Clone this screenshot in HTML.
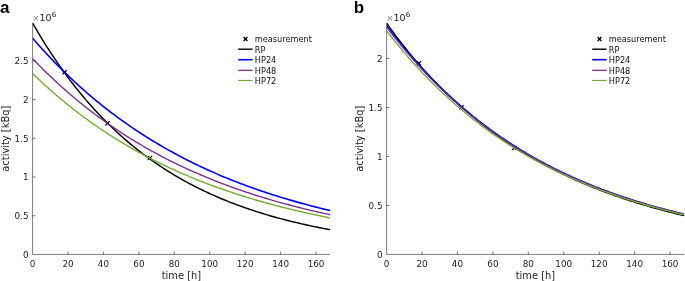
<!DOCTYPE html>
<html><head><meta charset="utf-8"><title>activity</title>
<style>
html,body{margin:0;padding:0;background:#fff;}
svg{display:block;will-change:transform}
text{font-family:"DejaVu Sans","Liberation Sans",sans-serif;fill:#262626}
.tk{font-size:8.8px}
.ex1{font-size:8px;fill:#777}
.ex2{font-size:9.5px}
.ex3{font-size:7.2px}
.al{font-size:9.9px}
.lg{font-size:8.2px;fill:#111}
.pl{font-family:"Liberation Sans",sans-serif;font-weight:bold;font-size:17px;fill:#000}
</style></head><body>
<svg width="685" height="281" viewBox="0 0 685 281">
<rect width="685" height="281" fill="#fff"/>
<clipPath id="ca"><rect x="32.60" y="23.00" width="298.20" height="231.40"/></clipPath>
<path d="M62.47 70.18L66.67 74.38M62.47 74.38L66.67 70.18" stroke="#000" stroke-width="1.3" fill="none"/>
<path d="M105.34 121.18L109.54 125.38M105.34 125.38L109.54 121.18" stroke="#000" stroke-width="1.3" fill="none"/>
<path d="M147.95 155.86L152.15 160.06M147.95 160.06L152.15 155.86" stroke="#000" stroke-width="1.3" fill="none"/>
<g clip-path="url(#ca)" fill="none" stroke-linejoin="round">
<polyline points="32.60,23.05 34.37,26.14 36.14,29.18 37.91,32.18 39.69,35.14 41.46,38.06 43.23,40.94 45.00,43.79 46.77,46.59 48.54,49.36 50.31,52.09 52.09,54.79 53.86,57.45 55.63,60.07 57.40,62.66 59.17,65.21 60.94,67.73 62.71,70.21 64.49,72.66 66.26,75.08 68.03,77.47 69.80,79.82 71.57,82.14 73.34,84.44 75.11,86.70 76.89,88.93 78.66,91.13 80.43,93.30 82.20,95.44 83.97,97.56 85.74,99.64 87.51,101.70 89.29,103.73 91.06,105.73 92.83,107.71 94.60,109.66 96.37,111.58 98.14,113.48 99.91,115.35 101.69,117.20 103.46,119.02 105.23,120.82 107.00,122.59 108.77,124.34 110.54,126.07 112.31,127.77 114.09,129.45 115.86,131.11 117.63,132.75 119.40,134.36 121.17,135.96 122.94,137.53 124.71,139.08 126.49,140.61 128.26,142.12 130.03,143.61 131.80,145.08 133.57,146.53 135.34,147.96 137.11,149.37 138.89,150.76 140.66,152.14 142.43,153.49 144.20,154.83 145.97,156.15 147.74,157.45 149.51,158.74 151.29,160.01 153.06,161.26 154.83,162.49 156.60,163.71 158.37,164.91 160.14,166.10 161.91,167.26 163.69,168.42 165.46,169.56 167.23,170.68 169.00,171.79 170.77,172.88 172.54,173.96 174.31,175.03 176.09,176.08 177.86,177.11 179.63,178.14 181.40,179.15 183.17,180.14 184.94,181.12 186.71,182.09 188.49,183.05 190.26,183.99 192.03,184.92 193.80,185.84 195.57,186.75 197.34,187.64 199.11,188.53 200.89,189.40 202.66,190.26 204.43,191.10 206.20,191.94 207.97,192.77 209.74,193.58 211.51,194.38 213.29,195.18 215.06,195.96 216.83,196.73 218.60,197.49 220.37,198.24 222.14,198.98 223.91,199.72 225.69,200.44 227.46,201.15 229.23,201.85 231.00,202.55 232.77,203.23 234.54,203.91 236.31,204.57 238.09,205.23 239.86,205.88 241.63,206.52 243.40,207.15 245.17,207.77 246.94,208.39 248.71,209.00 250.49,209.59 252.26,210.18 254.03,210.77 255.80,211.34 257.57,211.91 259.34,212.47 261.11,213.02 262.89,213.57 264.66,214.11 266.43,214.64 268.20,215.16 269.97,215.68 271.74,216.19 273.51,216.69 275.29,217.19 277.06,217.68 278.83,218.16 280.60,218.64 282.37,219.11 284.14,219.57 285.91,220.03 287.69,220.48 289.46,220.93 291.23,221.37 293.00,221.81 294.77,222.23 296.54,222.66 298.31,223.07 300.09,223.49 301.86,223.89 303.63,224.29 305.40,224.69 307.17,225.08 308.94,225.47 310.71,225.85 312.49,226.22 314.26,226.59 316.03,226.96 317.80,227.32 319.57,227.67 321.34,228.03 323.11,228.37 324.89,228.71 326.66,229.05 328.43,229.38 330.20,229.71" stroke="#000" stroke-width="1.45"/>
<polyline points="32.60,38.14 34.37,40.19 36.14,42.21 37.91,44.22 39.69,46.21 41.46,48.18 43.23,50.13 45.00,52.06 46.77,53.97 48.54,55.87 50.31,57.74 52.09,59.60 53.86,61.44 55.63,63.27 57.40,65.08 59.17,66.87 60.94,68.64 62.71,70.40 64.49,72.14 66.26,73.86 68.03,75.57 69.80,77.26 71.57,78.93 73.34,80.59 75.11,82.23 76.89,83.86 78.66,85.47 80.43,87.07 82.20,88.65 83.97,90.22 85.74,91.77 87.51,93.31 89.29,94.83 91.06,96.34 92.83,97.84 94.60,99.32 96.37,100.78 98.14,102.24 99.91,103.67 101.69,105.10 103.46,106.51 105.23,107.91 107.00,109.29 108.77,110.67 110.54,112.03 112.31,113.37 114.09,114.71 115.86,116.03 117.63,117.33 119.40,118.63 121.17,119.91 122.94,121.19 124.71,122.44 126.49,123.69 128.26,124.93 130.03,126.15 131.80,127.37 133.57,128.57 135.34,129.76 137.11,130.93 138.89,132.10 140.66,133.26 142.43,134.40 144.20,135.54 145.97,136.66 147.74,137.78 149.51,138.88 151.29,139.97 153.06,141.05 154.83,142.12 156.60,143.19 158.37,144.24 160.14,145.28 161.91,146.31 163.69,147.33 165.46,148.34 167.23,149.35 169.00,150.34 170.77,151.32 172.54,152.30 174.31,153.26 176.09,154.22 177.86,155.17 179.63,156.11 181.40,157.04 183.17,157.96 184.94,158.87 186.71,159.77 188.49,160.67 190.26,161.55 192.03,162.43 193.80,163.30 195.57,164.16 197.34,165.01 199.11,165.86 200.89,166.70 202.66,167.53 204.43,168.35 206.20,169.16 207.97,169.97 209.74,170.77 211.51,171.56 213.29,172.34 215.06,173.12 216.83,173.88 218.60,174.64 220.37,175.40 222.14,176.15 223.91,176.89 225.69,177.62 227.46,178.34 229.23,179.06 231.00,179.78 232.77,180.48 234.54,181.18 236.31,181.87 238.09,182.56 239.86,183.24 241.63,183.91 243.40,184.58 245.17,185.24 246.94,185.89 248.71,186.54 250.49,187.18 252.26,187.82 254.03,188.45 255.80,189.07 257.57,189.69 259.34,190.30 261.11,190.91 262.89,191.51 264.66,192.10 266.43,192.69 268.20,193.27 269.97,193.85 271.74,194.42 273.51,194.99 275.29,195.55 277.06,196.11 278.83,196.66 280.60,197.21 282.37,197.75 284.14,198.28 285.91,198.81 287.69,199.34 289.46,199.86 291.23,200.37 293.00,200.89 294.77,201.39 296.54,201.89 298.31,202.39 300.09,202.88 301.86,203.37 303.63,203.85 305.40,204.33 307.17,204.80 308.94,205.27 310.71,205.73 312.49,206.20 314.26,206.65 316.03,207.10 317.80,207.55 319.57,207.99 321.34,208.43 323.11,208.87 324.89,209.30 326.66,209.72 328.43,210.15 330.20,210.56" stroke="#0000ff" stroke-width="1.6"/>
<polyline points="32.60,58.58 34.37,60.43 36.14,62.26 37.91,64.08 39.69,65.88 41.46,67.66 43.23,69.43 45.00,71.18 46.77,72.91 48.54,74.62 50.31,76.32 52.09,78.01 53.86,79.68 55.63,81.33 57.40,82.96 59.17,84.59 60.94,86.19 62.71,87.78 64.49,89.36 66.26,90.92 68.03,92.46 69.80,93.99 71.57,95.51 73.34,97.01 75.11,98.50 76.89,99.98 78.66,101.44 80.43,102.88 82.20,104.31 83.97,105.73 85.74,107.14 87.51,108.53 89.29,109.91 91.06,111.28 92.83,112.63 94.60,113.97 96.37,115.30 98.14,116.61 99.91,117.92 101.69,119.21 103.46,120.48 105.23,121.75 107.00,123.01 108.77,124.25 110.54,125.48 112.31,126.70 114.09,127.90 115.86,129.10 117.63,130.29 119.40,131.46 121.17,132.62 122.94,133.77 124.71,134.91 126.49,136.04 128.26,137.16 130.03,138.27 131.80,139.37 133.57,140.46 135.34,141.53 137.11,142.60 138.89,143.66 140.66,144.70 142.43,145.74 144.20,146.77 145.97,147.79 147.74,148.79 149.51,149.79 151.29,150.78 153.06,151.76 154.83,152.73 156.60,153.69 158.37,154.65 160.14,155.59 161.91,156.52 163.69,157.45 165.46,158.37 167.23,159.27 169.00,160.17 170.77,161.06 172.54,161.95 174.31,162.82 176.09,163.69 177.86,164.54 179.63,165.39 181.40,166.24 183.17,167.07 184.94,167.89 186.71,168.71 188.49,169.52 190.26,170.33 192.03,171.12 193.80,171.91 195.57,172.69 197.34,173.46 199.11,174.23 200.89,174.98 202.66,175.73 204.43,176.48 206.20,177.21 207.97,177.94 209.74,178.67 211.51,179.38 213.29,180.09 215.06,180.80 216.83,181.49 218.60,182.18 220.37,182.86 222.14,183.54 223.91,184.21 225.69,184.87 227.46,185.53 229.23,186.18 231.00,186.83 232.77,187.47 234.54,188.10 236.31,188.73 238.09,189.35 239.86,189.96 241.63,190.57 243.40,191.17 245.17,191.77 246.94,192.36 248.71,192.95 250.49,193.53 252.26,194.11 254.03,194.68 255.80,195.24 257.57,195.80 259.34,196.36 261.11,196.90 262.89,197.45 264.66,197.99 266.43,198.52 268.20,199.05 269.97,199.57 271.74,200.09 273.51,200.60 275.29,201.11 277.06,201.62 278.83,202.12 280.60,202.61 282.37,203.10 284.14,203.58 285.91,204.06 287.69,204.54 289.46,205.01 291.23,205.48 293.00,205.94 294.77,206.40 296.54,206.85 298.31,207.30 300.09,207.75 301.86,208.19 303.63,208.63 305.40,209.06 307.17,209.49 308.94,209.91 310.71,210.33 312.49,210.75 314.26,211.16 316.03,211.57 317.80,211.98 319.57,212.38 321.34,212.77 323.11,213.17 324.89,213.56 326.66,213.94 328.43,214.33 330.20,214.71" stroke="#7e2f8e" stroke-width="1.4"/>
<polyline points="32.60,73.52 34.37,75.23 36.14,76.93 37.91,78.61 39.69,80.28 41.46,81.93 43.23,83.57 45.00,85.19 46.77,86.79 48.54,88.38 50.31,89.96 52.09,91.52 53.86,93.06 55.63,94.59 57.40,96.11 59.17,97.61 60.94,99.10 62.71,100.57 64.49,102.03 66.26,103.47 68.03,104.91 69.80,106.32 71.57,107.73 73.34,109.12 75.11,110.50 76.89,111.86 78.66,113.21 80.43,114.55 82.20,115.88 83.97,117.19 85.74,118.50 87.51,119.78 89.29,121.06 91.06,122.33 92.83,123.58 94.60,124.82 96.37,126.05 98.14,127.27 99.91,128.47 101.69,129.67 103.46,130.85 105.23,132.02 107.00,133.18 108.77,134.33 110.54,135.47 112.31,136.60 114.09,137.72 115.86,138.82 117.63,139.92 119.40,141.00 121.17,142.08 122.94,143.15 124.71,144.20 126.49,145.25 128.26,146.28 130.03,147.31 131.80,148.32 133.57,149.33 135.34,150.32 137.11,151.31 138.89,152.29 140.66,153.26 142.43,154.22 144.20,155.17 145.97,156.11 147.74,157.04 149.51,157.96 151.29,158.88 153.06,159.79 154.83,160.68 156.60,161.57 158.37,162.45 160.14,163.32 161.91,164.19 163.69,165.04 165.46,165.89 167.23,166.73 169.00,167.56 170.77,168.39 172.54,169.20 174.31,170.01 176.09,170.81 177.86,171.60 179.63,172.39 181.40,173.17 183.17,173.94 184.94,174.70 186.71,175.46 188.49,176.20 190.26,176.95 192.03,177.68 193.80,178.41 195.57,179.13 197.34,179.84 199.11,180.55 200.89,181.25 202.66,181.94 204.43,182.63 206.20,183.31 207.97,183.99 209.74,184.65 211.51,185.32 213.29,185.97 215.06,186.62 216.83,187.26 218.60,187.90 220.37,188.53 222.14,189.16 223.91,189.77 225.69,190.39 227.46,190.99 229.23,191.60 231.00,192.19 232.77,192.78 234.54,193.37 236.31,193.94 238.09,194.52 239.86,195.09 241.63,195.65 243.40,196.21 245.17,196.76 246.94,197.30 248.71,197.85 250.49,198.38 252.26,198.91 254.03,199.44 255.80,199.96 257.57,200.48 259.34,200.99 261.11,201.50 262.89,202.00 264.66,202.49 266.43,202.99 268.20,203.47 269.97,203.96 271.74,204.44 273.51,204.91 275.29,205.38 277.06,205.84 278.83,206.30 280.60,206.76 282.37,207.21 284.14,207.66 285.91,208.10 287.69,208.54 289.46,208.98 291.23,209.41 293.00,209.84 294.77,210.26 296.54,210.68 298.31,211.09 300.09,211.50 301.86,211.91 303.63,212.31 305.40,212.71 307.17,213.11 308.94,213.50 310.71,213.89 312.49,214.27 314.26,214.65 316.03,215.03 317.80,215.40 319.57,215.77 321.34,216.14 323.11,216.50 324.89,216.86 326.66,217.22 328.43,217.57 330.20,217.92" stroke="#77ac30" stroke-width="1.4"/>
</g>
<path d="M32.60 23.00V254.40H330.20" stroke="#262626" stroke-width="0.75" fill="none" stroke-opacity="0.8"/>
<path d="M68.03 254.40v-3M103.46 254.40v-3M138.89 254.40v-3M174.31 254.40v-3M209.74 254.40v-3M245.17 254.40v-3M280.60 254.40v-3M316.03 254.40v-3M32.60 215.70h3M32.60 177.00h3M32.60 138.30h3M32.60 99.60h3M32.60 60.90h3" stroke="#262626" stroke-width="0.75" fill="none" stroke-opacity="0.8"/>
<g class="tk" text-anchor="middle">
<text x="32.60" y="266.55">0</text>
<text x="68.03" y="266.55">20</text>
<text x="103.46" y="266.55">40</text>
<text x="138.89" y="266.55">60</text>
<text x="174.31" y="266.55">80</text>
<text x="209.74" y="266.55">100</text>
<text x="245.17" y="266.55">120</text>
<text x="280.60" y="266.55">140</text>
<text x="316.03" y="266.55">160</text>
</g>
<g class="tk" text-anchor="end">
<text x="28.50" y="257.60">0</text>
<text x="28.50" y="218.90">0.5</text>
<text x="28.50" y="180.20">1</text>
<text x="28.50" y="141.50">1.5</text>
<text x="28.50" y="102.80">2</text>
<text x="28.50" y="64.10">2.5</text>
</g>
<text class="ex1" x="32.50" y="21.0">×</text><text class="ex2" x="39.50" y="21.0">10</text><text class="ex3" x="51.80" y="16.8">6</text>
<text class="al" text-anchor="middle" x="181.40" y="279.1">time [h]</text>
<text class="al" text-anchor="middle" transform="translate(9.00 138.70) rotate(-90)">activity [kBq]</text>
<text class="pl" x="0" y="13">a</text>
<path d="M243.60 37.10L247.40 40.90M243.60 40.90L247.40 37.10" stroke="#000" stroke-width="1.4" fill="none"/>
<text class="lg" x="254.80" y="42.30">measurement</text>
<path d="M238.20 49.20h14.4" stroke="#000" stroke-width="1.4"/>
<text class="lg" x="254.80" y="52.80">RP</text>
<path d="M238.20 59.70h14.4" stroke="#0000ff" stroke-width="1.6"/>
<text class="lg" x="254.80" y="63.40">HP24</text>
<path d="M238.20 70.30h14.4" stroke="#7e2f8e" stroke-width="1.3"/>
<text class="lg" x="254.80" y="73.90">HP48</text>
<path d="M238.20 80.45h14.4" stroke="#77ac30" stroke-width="1.2"/>
<text class="lg" x="254.80" y="84.40">HP72</text>
<clipPath id="cb"><rect x="386.60" y="23.00" width="298.20" height="231.40"/></clipPath>
<path d="M416.74 61.30L420.94 65.50M416.74 65.50L420.94 61.30" stroke="#000" stroke-width="1.3" fill="none"/>
<path d="M459.43 105.20L463.63 109.40M459.43 109.40L463.63 105.20" stroke="#000" stroke-width="1.3" fill="none"/>
<path d="M512.22 145.87L516.42 150.07M512.22 150.07L516.42 145.87" stroke="#000" stroke-width="1.3" fill="none"/>
<g clip-path="url(#cb)" fill="none" stroke-linejoin="round">
<polyline points="386.60,23.02 388.37,25.54 390.14,28.02 391.91,30.47 393.69,32.89 395.46,35.28 397.23,37.63 399.00,39.97 400.77,42.27 402.54,44.54 404.31,46.79 406.09,49.01 407.86,51.20 409.63,53.37 411.40,55.51 413.17,57.63 414.94,59.73 416.71,61.80 418.49,63.84 420.26,65.86 422.03,67.87 423.80,69.84 425.57,71.80 427.34,73.73 429.11,75.65 430.89,77.54 432.66,79.41 434.43,81.26 436.20,83.09 437.97,84.90 439.74,86.69 441.51,88.46 443.29,90.21 445.06,91.95 446.83,93.66 448.60,95.36 450.37,97.04 452.14,98.70 453.91,100.34 455.69,101.96 457.46,103.57 459.23,105.16 461.00,106.73 462.77,108.29 464.54,109.83 466.31,111.36 468.09,112.86 469.86,114.36 471.63,115.83 473.40,117.29 475.17,118.74 476.94,120.17 478.71,121.58 480.49,122.98 482.26,124.37 484.03,125.74 485.80,127.09 487.57,128.44 489.34,129.76 491.11,131.08 492.89,132.38 494.66,133.66 496.43,134.94 498.20,136.20 499.97,137.44 501.74,138.68 503.51,139.90 505.29,141.10 507.06,142.30 508.83,143.48 510.60,144.65 512.37,145.81 514.14,146.96 515.91,148.09 517.69,149.21 519.46,150.32 521.23,151.42 523.00,152.51 524.77,153.58 526.54,154.64 528.31,155.70 530.09,156.74 531.86,157.77 533.63,158.79 535.40,159.80 537.17,160.80 538.94,161.79 540.71,162.76 542.49,163.73 544.26,164.69 546.03,165.64 547.80,166.57 549.57,167.50 551.34,168.42 553.11,169.33 554.89,170.22 556.66,171.11 558.43,171.99 560.20,172.86 561.97,173.73 563.74,174.58 565.51,175.42 567.29,176.26 569.06,177.08 570.83,177.90 572.60,178.71 574.37,179.51 576.14,180.30 577.91,181.08 579.69,181.86 581.46,182.62 583.23,183.38 585.00,184.13 586.77,184.87 588.54,185.61 590.31,186.34 592.09,187.06 593.86,187.77 595.63,188.47 597.40,189.17 599.17,189.86 600.94,190.54 602.71,191.22 604.49,191.88 606.26,192.54 608.03,193.20 609.80,193.85 611.57,194.49 613.34,195.12 615.11,195.75 616.89,196.37 618.66,196.98 620.43,197.59 622.20,198.19 623.97,198.78 625.74,199.37 627.51,199.95 629.29,200.53 631.06,201.10 632.83,201.66 634.60,202.22 636.37,202.77 638.14,203.32 639.91,203.86 641.69,204.39 643.46,204.92 645.23,205.44 647.00,205.96 648.77,206.47 650.54,206.98 652.31,207.48 654.09,207.98 655.86,208.47 657.63,208.96 659.40,209.44 661.17,209.91 662.94,210.38 664.71,210.85 666.49,211.31 668.26,211.76 670.03,212.22 671.80,212.66 673.57,213.10 675.34,213.54 677.11,213.97 678.89,214.40 680.66,214.82 682.43,215.24 684.20,215.66" stroke="#000" stroke-width="1.35"/>
<polyline points="386.60,25.52 388.37,27.88 390.14,30.21 391.91,32.51 393.69,34.80 395.46,37.06 397.23,39.29 399.00,41.50 400.77,43.70 402.54,45.86 404.31,48.01 406.09,50.13 407.86,52.23 409.63,54.31 411.40,56.37 413.17,58.41 414.94,60.43 416.71,62.42 418.49,64.40 420.26,66.35 422.03,68.29 423.80,70.20 425.57,72.10 427.34,73.97 429.11,75.83 430.89,77.67 432.66,79.48 434.43,81.28 436.20,83.07 437.97,84.83 439.74,86.57 441.51,88.30 443.29,90.01 445.06,91.70 446.83,93.37 448.60,95.03 450.37,96.67 452.14,98.29 453.91,99.90 455.69,101.49 457.46,103.06 459.23,104.62 461.00,106.16 462.77,107.69 464.54,109.20 466.31,110.69 468.09,112.17 469.86,113.63 471.63,115.08 473.40,116.51 475.17,117.93 476.94,119.34 478.71,120.73 480.49,122.10 482.26,123.46 484.03,124.81 485.80,126.14 487.57,127.46 489.34,128.77 491.11,130.06 492.89,131.34 494.66,132.61 496.43,133.86 498.20,135.10 499.97,136.33 501.74,137.54 503.51,138.74 505.29,139.93 507.06,141.11 508.83,142.28 510.60,143.43 512.37,144.57 514.14,145.70 515.91,146.82 517.69,147.93 519.46,149.02 521.23,150.11 523.00,151.18 524.77,152.24 526.54,153.29 528.31,154.33 530.09,155.36 531.86,156.38 533.63,157.39 535.40,158.39 537.17,159.38 538.94,160.35 540.71,161.32 542.49,162.28 544.26,163.23 546.03,164.17 547.80,165.09 549.57,166.01 551.34,166.92 553.11,167.82 554.89,168.71 556.66,169.59 558.43,170.47 560.20,171.33 561.97,172.19 563.74,173.03 565.51,173.87 567.29,174.70 569.06,175.52 570.83,176.33 572.60,177.13 574.37,177.93 576.14,178.71 577.91,179.49 579.69,180.26 581.46,181.03 583.23,181.78 585.00,182.53 586.77,183.27 588.54,184.00 590.31,184.72 592.09,185.44 593.86,186.15 595.63,186.85 597.40,187.55 599.17,188.23 600.94,188.92 602.71,189.59 604.49,190.26 606.26,190.92 608.03,191.57 609.80,192.22 611.57,192.86 613.34,193.49 615.11,194.12 616.89,194.74 618.66,195.35 620.43,195.96 622.20,196.56 623.97,197.15 625.74,197.74 627.51,198.33 629.29,198.90 631.06,199.47 632.83,200.04 634.60,200.60 636.37,201.15 638.14,201.70 639.91,202.24 641.69,202.78 643.46,203.31 645.23,203.83 647.00,204.36 648.77,204.87 650.54,205.38 652.31,205.88 654.09,206.38 655.86,206.88 657.63,207.37 659.40,207.85 661.17,208.33 662.94,208.80 664.71,209.27 666.49,209.74 668.26,210.20 670.03,210.65 671.80,211.10 673.57,211.55 675.34,211.99 677.11,212.42 678.89,212.86 680.66,213.28 682.43,213.71 684.20,214.12" stroke="#0000ff" stroke-width="1.5"/>
<polyline points="386.60,27.19 388.37,29.52 390.14,31.82 391.91,34.11 393.69,36.37 395.46,38.60 397.23,40.82 399.00,43.01 400.77,45.18 402.54,47.32 404.31,49.45 406.09,51.55 407.86,53.63 409.63,55.69 411.40,57.73 413.17,59.74 414.94,61.74 416.71,63.72 418.49,65.67 420.26,67.61 422.03,69.52 423.80,71.42 425.57,73.30 427.34,75.15 429.11,76.99 430.89,78.81 432.66,80.61 434.43,82.40 436.20,84.16 437.97,85.91 439.74,87.63 441.51,89.35 443.29,91.04 445.06,92.71 446.83,94.37 448.60,96.01 450.37,97.64 452.14,99.25 453.91,100.84 455.69,102.41 457.46,103.97 459.23,105.51 461.00,107.04 462.77,108.55 464.54,110.05 466.31,111.53 468.09,113.00 469.86,114.45 471.63,115.88 473.40,117.30 475.17,118.71 476.94,120.10 478.71,121.48 480.49,122.84 482.26,124.19 484.03,125.53 485.80,126.85 487.57,128.16 489.34,129.45 491.11,130.73 492.89,132.00 494.66,133.26 496.43,134.50 498.20,135.73 499.97,136.95 501.74,138.15 503.51,139.34 505.29,140.52 507.06,141.69 508.83,142.85 510.60,143.99 512.37,145.12 514.14,146.24 515.91,147.35 517.69,148.45 519.46,149.54 521.23,150.61 523.00,151.68 524.77,152.73 526.54,153.78 528.31,154.81 530.09,155.83 531.86,156.84 533.63,157.84 535.40,158.83 537.17,159.81 538.94,160.78 540.71,161.74 542.49,162.69 544.26,163.63 546.03,164.56 547.80,165.49 549.57,166.40 551.34,167.30 553.11,168.19 554.89,169.08 556.66,169.95 558.43,170.82 560.20,171.68 561.97,172.52 563.74,173.36 565.51,174.20 567.29,175.02 569.06,175.83 570.83,176.64 572.60,177.44 574.37,178.23 576.14,179.01 577.91,179.78 579.69,180.55 581.46,181.30 583.23,182.05 585.00,182.79 586.77,183.53 588.54,184.26 590.31,184.98 592.09,185.69 593.86,186.39 595.63,187.09 597.40,187.78 599.17,188.46 600.94,189.14 602.71,189.81 604.49,190.47 606.26,191.13 608.03,191.78 609.80,192.42 611.57,193.05 613.34,193.68 615.11,194.31 616.89,194.92 618.66,195.53 620.43,196.14 622.20,196.73 623.97,197.33 625.74,197.91 627.51,198.49 629.29,199.06 631.06,199.63 632.83,200.19 634.60,200.75 636.37,201.30 638.14,201.84 639.91,202.38 641.69,202.92 643.46,203.45 645.23,203.97 647.00,204.49 648.77,205.00 650.54,205.50 652.31,206.01 654.09,206.50 655.86,206.99 657.63,207.48 659.40,207.96 661.17,208.44 662.94,208.91 664.71,209.37 666.49,209.84 668.26,210.29 670.03,210.75 671.80,211.19 673.57,211.64 675.34,212.08 677.11,212.51 678.89,212.94 680.66,213.36 682.43,213.79 684.20,214.20" stroke="#7e2f8e" stroke-width="1.15"/>
<polyline points="386.60,30.67 388.37,32.96 390.14,35.23 391.91,37.48 393.69,39.71 395.46,41.91 397.23,44.09 399.00,46.24 400.77,48.38 402.54,50.49 404.31,52.58 406.09,54.65 407.86,56.70 409.63,58.73 411.40,60.74 413.17,62.72 414.94,64.69 416.71,66.64 418.49,68.56 420.26,70.47 422.03,72.35 423.80,74.22 425.57,76.07 427.34,77.90 429.11,79.71 430.89,81.50 432.66,83.27 434.43,85.03 436.20,86.77 437.97,88.49 439.74,90.19 441.51,91.87 443.29,93.54 445.06,95.19 446.83,96.82 448.60,98.44 450.37,100.04 452.14,101.62 453.91,103.19 455.69,104.74 457.46,106.27 459.23,107.79 461.00,109.30 462.77,110.79 464.54,112.26 466.31,113.72 468.09,115.16 469.86,116.59 471.63,118.00 473.40,119.40 475.17,120.79 476.94,122.16 478.71,123.51 480.49,124.86 482.26,126.18 484.03,127.50 485.80,128.80 487.57,130.09 489.34,131.36 491.11,132.63 492.89,133.87 494.66,135.11 496.43,136.33 498.20,137.55 499.97,138.74 501.74,139.93 503.51,141.10 505.29,142.27 507.06,143.42 508.83,144.56 510.60,145.68 512.37,146.80 514.14,147.90 515.91,148.99 517.69,150.07 519.46,151.14 521.23,152.20 523.00,153.25 524.77,154.29 526.54,155.32 528.31,156.33 530.09,157.34 531.86,158.33 533.63,159.32 535.40,160.29 537.17,161.26 538.94,162.21 540.71,163.16 542.49,164.10 544.26,165.02 546.03,165.94 547.80,166.85 549.57,167.74 551.34,168.63 553.11,169.51 554.89,170.38 556.66,171.25 558.43,172.10 560.20,172.94 561.97,173.78 563.74,174.61 565.51,175.42 567.29,176.23 569.06,177.04 570.83,177.83 572.60,178.61 574.37,179.39 576.14,180.16 577.91,180.92 579.69,181.68 581.46,182.42 583.23,183.16 585.00,183.89 586.77,184.61 588.54,185.33 590.31,186.04 592.09,186.74 593.86,187.43 595.63,188.12 597.40,188.80 599.17,189.47 600.94,190.14 602.71,190.80 604.49,191.45 606.26,192.10 608.03,192.74 609.80,193.37 611.57,193.99 613.34,194.61 615.11,195.23 616.89,195.83 618.66,196.43 620.43,197.03 622.20,197.62 623.97,198.20 625.74,198.78 627.51,199.35 629.29,199.91 631.06,200.47 632.83,201.02 634.60,201.57 636.37,202.11 638.14,202.65 639.91,203.18 641.69,203.71 643.46,204.23 645.23,204.74 647.00,205.25 648.77,205.75 650.54,206.25 652.31,206.75 654.09,207.24 655.86,207.72 657.63,208.20 659.40,208.67 661.17,209.14 662.94,209.60 664.71,210.06 666.49,210.52 668.26,210.97 670.03,211.41 671.80,211.86 673.57,212.29 675.34,212.72 677.11,213.15 678.89,213.57 680.66,213.99 682.43,214.41 684.20,214.82" stroke="#77ac30" stroke-width="1.35"/>
</g>
<path d="M386.60 23.00V254.40H684.20" stroke="#262626" stroke-width="0.75" fill="none" stroke-opacity="0.8"/>
<path d="M422.03 254.40v-3M457.46 254.40v-3M492.89 254.40v-3M528.31 254.40v-3M563.74 254.40v-3M599.17 254.40v-3M634.60 254.40v-3M670.03 254.40v-3M386.60 205.40h3M386.60 156.40h3M386.60 107.40h3M386.60 58.40h3" stroke="#262626" stroke-width="0.75" fill="none" stroke-opacity="0.8"/>
<g class="tk" text-anchor="middle">
<text x="386.60" y="266.55">0</text>
<text x="422.03" y="266.55">20</text>
<text x="457.46" y="266.55">40</text>
<text x="492.89" y="266.55">60</text>
<text x="528.31" y="266.55">80</text>
<text x="563.74" y="266.55">100</text>
<text x="599.17" y="266.55">120</text>
<text x="634.60" y="266.55">140</text>
<text x="670.03" y="266.55">160</text>
</g>
<g class="tk" text-anchor="end">
<text x="382.50" y="257.60">0</text>
<text x="382.50" y="208.60">0.5</text>
<text x="382.50" y="159.60">1</text>
<text x="382.50" y="110.60">1.5</text>
<text x="382.50" y="61.60">2</text>
</g>
<text class="ex1" x="386.50" y="21.0">×</text><text class="ex2" x="393.50" y="21.0">10</text><text class="ex3" x="405.80" y="16.8">6</text>
<text class="al" text-anchor="middle" x="535.40" y="279.1">time [h]</text>
<text class="al" text-anchor="middle" transform="translate(363.00 138.70) rotate(-90)">activity [kBq]</text>
<text class="pl" x="353.8" y="13">b</text>
<path d="M597.60 37.10L601.40 40.90M597.60 40.90L601.40 37.10" stroke="#000" stroke-width="1.4" fill="none"/>
<text class="lg" x="608.80" y="42.30">measurement</text>
<path d="M592.20 49.20h14.4" stroke="#000" stroke-width="1.4"/>
<text class="lg" x="608.80" y="52.80">RP</text>
<path d="M592.20 59.70h14.4" stroke="#0000ff" stroke-width="1.6"/>
<text class="lg" x="608.80" y="63.40">HP24</text>
<path d="M592.20 70.30h14.4" stroke="#7e2f8e" stroke-width="1.3"/>
<text class="lg" x="608.80" y="73.90">HP48</text>
<path d="M592.20 80.45h14.4" stroke="#77ac30" stroke-width="1.2"/>
<text class="lg" x="608.80" y="84.40">HP72</text>
</svg>
</body></html>
